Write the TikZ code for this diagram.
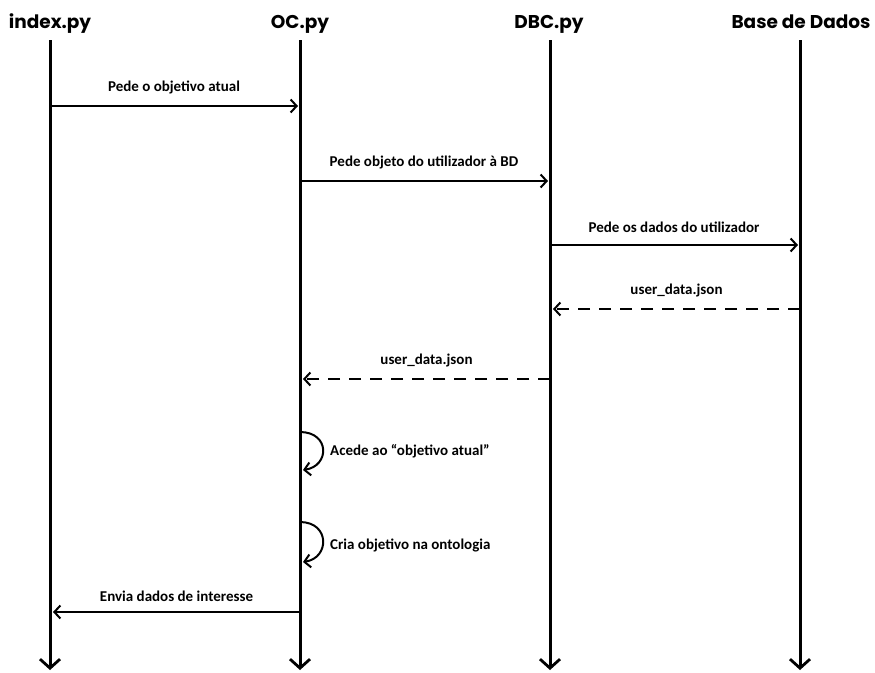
\documentclass[tikz,border=0pt]{standalone}
\usepackage{fontspec}
\setmainfont{Carlito}
\newfontfamily\headfont{Poppins}
\usetikzlibrary{arrows.meta}
\begin{document}
\begin{tikzpicture}[x=1pt,y=-1pt,
  head/.style={font=\headfont\bfseries\fontsize{18.5}{22}\selectfont, inner sep=0pt, anchor=base},
  lifeline/.style={line width=3pt, -{Straight Barb[length=9pt,width=20pt,line width=2.8pt]}},
  msg/.style={line width=2pt, -{Straight Barb[length=6pt,width=13pt,line width=2pt]}},
  reply/.style={msg, dash pattern=on 12pt off 9pt},
  lbl/.style={font=\bfseries\fontsize{15}{18}\selectfont, inner sep=0pt},
  selfmsg/.style={line width=2pt, -{Straight Barb[length=6pt,width=13pt,line width=2pt]}}]
\useasboundingbox (0,0) rectangle (875,672);
% headers
\node[head] (hI) at (50,28) {index.py};
\node[head] (hO) at (300,28) {OC.py};
\node[head] (hD) at (549,28) {DBC.py};
\node[head] (hB) at (801,28) {Base de Dados};
% lifeline ends
\coordinate (tI) at (50,40); \coordinate (bI) at (50,670);
\coordinate (tO) at (300,40); \coordinate (bO) at (300,670);
\coordinate (tD) at (550,40); \coordinate (bD) at (550,670);
\coordinate (tB) at (800,40); \coordinate (bB) at (800,670);
\draw[lifeline] (tI) -- (bI);
\draw[lifeline] (tO) -- (bO);
\draw[lifeline] (tD) -- (bD);
\draw[lifeline] (tB) -- (bB);
% message points
\coordinate (m1a) at (50,106); \coordinate (m1b) at (298,106);
\coordinate (m2a) at (300,181); \coordinate (m2b) at (548,181);
\coordinate (m3a) at (550,245); \coordinate (m3b) at (798,245);
\coordinate (m4a) at (800,309); \coordinate (m4b) at (553,309);
\coordinate (m5a) at (550,379); \coordinate (m5b) at (303,379);
\coordinate (m8a) at (300,612); \coordinate (m8b) at (53,612);
\coordinate (s1a) at (300,432); \coordinate (s1b) at (303,470);
\coordinate (s2a) at (300,522); \coordinate (s2b) at (303,562);
\draw[msg] (m1a) -- (m1b) node[lbl, midway, above=11pt] (l1) {Pede o objetivo atual};
\draw[msg] (m2a) -- (m2b) node[lbl, midway, above=11pt] (l2) {Pede objeto do utilizador à BD};
\draw[msg] (m3a) -- (m3b) node[lbl, midway, above=11pt] (l3) {Pede os dados do utilizador};
\draw[reply] (m4a) -- (m4b) node[lbl, midway, above=11pt] (l4) {user\_data.json};
\draw[reply] (m5a) -- (m5b) node[lbl, midway, above=11pt] (l5) {user\_data.json};
\draw[selfmsg] (s1a) .. controls (330,432) and (330,466) .. (s1b);
\node[lbl, anchor=west] (l6) at (330,451) {Acede ao “objetivo atual”};
\draw[selfmsg] (s2a) .. controls (330,522) and (330,558) .. (s2b);
\node[lbl, anchor=west] (l7) at (330,545) {Cria objetivo na ontologia};
\draw[msg] (m8a) -- (m8b) node[lbl, midway, above=9pt] (l8) {Envia dados de interesse};
\end{tikzpicture}
\end{document}
